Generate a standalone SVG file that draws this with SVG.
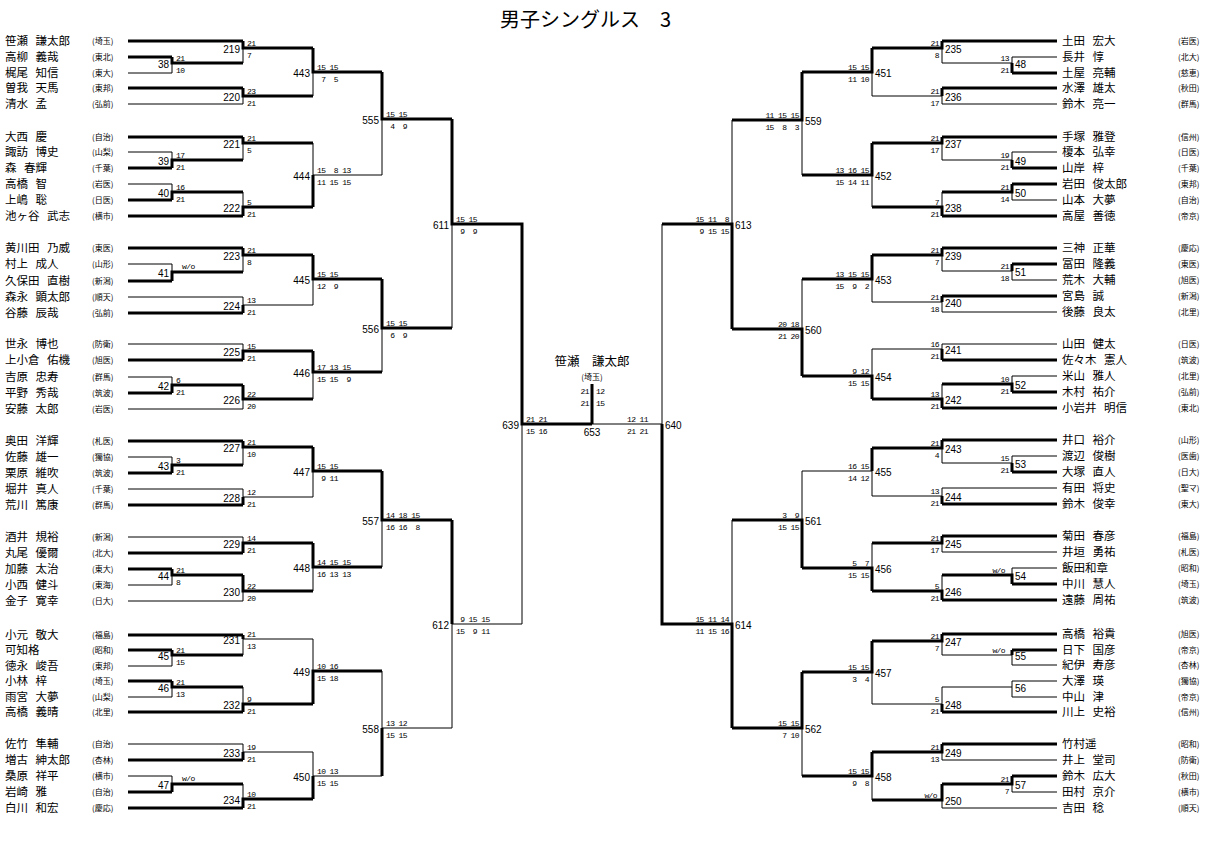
<svg xmlns="http://www.w3.org/2000/svg" width="1214" height="841" viewBox="0 0 1214 841" xml:space="preserve">
<style>
.t{stroke:#000;stroke-width:1;fill:none}
.k{stroke:#000;stroke-width:3;fill:none}
text{fill:#000}
.nm{font-family:"Noto Sans CJK JP","Noto Sans",sans-serif;font-size:11.5px;word-spacing:5px}
.sc{font-family:"Noto Sans CJK JP",sans-serif;font-size:8px}
.nl{font-family:"Liberation Sans",sans-serif;font-size:10px;text-anchor:end}
.nr{font-family:"Liberation Sans",sans-serif;font-size:10px}
.s{font-family:"Liberation Mono",monospace;font-size:8px;letter-spacing:-0.6px;white-space:pre}
.sr{font-family:"Liberation Mono",monospace;font-size:8px;letter-spacing:-0.6px;white-space:pre;text-anchor:end}
.ti{font-family:"Noto Sans CJK JP",sans-serif;font-size:20px}
</style>
<rect width="1214" height="841" fill="#fff"/>
<text class="ti" x="500" y="27">男子シングルス　3</text>
<g id="connectors">
<path class="k" d="M128 41H243M128 57H172M128 88H243M128 137H243M128 168H172M128 200H172M128 216H243M128 248H243M128 281H172M128 313H243M128 360H243M128 393H172M128 441H243M128 473H172M128 505H243M128 553H243M128 569H172M128 635H243M128 650H172M128 681H172M128 712H243M128 760H243M128 792H172M128 808H243"/>
<path class="t" d="M128 73H172M128 104H243M128 152H172M128 184H172M128 264H172M128 297H243M128 344H243M128 377H172M128 409H243M128 457H172M128 489H243M128 537H243M128 585H172M128 601H243M128 666H172M128 697H172M128 744H243M128 776H172"/>
<path class="t" d="M172 57V73M243 41V63M243 88V104M313 48V96M172 152V168M243 137V160M172 184V200M243 192V216M313 143V207M382 72V175M172 264V281M243 248V272M243 297V313M313 255V305M243 344V360M172 377V393M243 385V409M313 351V399M382 279V372M452 119V328M172 457V473M243 441V465M243 489V505M313 447V497M243 537V553M172 569V585M243 575V601M313 543V591M382 471V567M172 650V666M243 635V655M172 681V697M243 687V712M313 639V704M243 744V760M172 776V792M243 784V808M313 752V799M382 671V776M452 520V728M522 224V624M662 224V624"/>
<path class="k" d="M172 57V63H243M243 41V48H313M243 88V96H313M313 48V72H382M172 168V160H243M243 137V143H313M172 200V192H243M243 216V207H313M313 207V175M382 72V119H452M172 281V272H243M243 248V255H313M243 313V305M313 255V279H382M243 360V351H313M172 393V385H243M243 385V399H313M313 351V372H382M382 279V328H452M452 119V224H522V424H592M592 384V424M172 473V465H243M243 441V447H313M243 505V497M313 447V471H382M243 553V543H313M172 569V575H243M243 575V591H313M313 543V567H382M382 471V520H452M172 650V655H243M243 635V639M172 681V687H243M243 712V704H313M313 704V671H382M243 760V752M172 792V784H243M243 808V799H313M313 799V776M382 776V728M452 520V624"/>
<path class="t" d="M243 305H313M313 175H382M243 497H313M243 639H313M243 752H313M313 776H382M382 728H452M452 624H522M662 424H592"/>
<path class="k" d="M1057 41H942M1057 73H1012M1057 88H942M1057 137H942M1057 168H1012M1057 184H1012M1057 216H942M1057 248H942M1057 264H1012M1057 296H942M1057 360H942M1057 392H1012M1057 408H942M1057 440H942M1057 472H1012M1057 504H942M1057 536H942M1057 584H1012M1057 600H942M1057 634H942M1057 650H1012M1057 712H942M1057 744H942M1057 776H1012"/>
<path class="t" d="M1057 57H1012M1057 104H942M1057 152H1012M1057 200H1012M1057 280H1012M1057 312H942M1057 344H942M1057 376H1012M1057 456H1012M1057 488H942M1057 552H942M1057 568H1012M1057 665H1012M1057 681H1012M1057 697H1012M1057 760H942M1057 792H1012M1057 808H942"/>
<path class="t" d="M1012 57V73M942 41V63M942 88V104M872 48V96M1012 152V168M942 137V160M1012 184V200M942 192V216M872 143V207M802 72V175M1012 264V280M942 248V271M942 296V312M872 255V302M942 344V360M1012 376V392M942 384V408M872 349V399M802 279V376M732 120V329M1012 456V472M942 440V463M942 488V504M872 448V496M942 536V552M1012 568V584M942 575V600M872 543V591M802 471V568M1012 650V665M942 634V655M1012 681V697M942 687V712M872 641V704M942 744V760M1012 776V792M942 784V808M872 752V800M802 672V776M732 520V728"/>
<path class="k" d="M1012 73V63M942 41V48H872M942 88V96M872 48V72H802M1012 168V160M942 137V143H872M1012 184V192H942M942 216V207H872M872 143V175H802M802 72V120H732M1012 264V271M942 248V255H872M942 296V302M872 255V279H802M942 360V349M1012 392V384H942M942 408V399H872M872 399V376H802M802 376V329H732M732 329V224H662M1012 472V463M942 440V448H872M942 504V496M872 448V471M942 536V543H872M1012 584V575H942M942 600V591H872M872 591V568H802M802 568V520H732M1012 650V655M942 634V641H872M942 712V704M872 641V672H802M942 744V752H872M1012 776V784H942M942 784V800H872M872 752V776H802M802 672V728H732M732 728V624H662V424"/>
<path class="t" d="M1012 63H942M942 96H872M1012 160H942M1012 271H942M942 302H872M942 349H872M1012 463H942M942 496H872M872 471H802M1012 655H942M1012 687H942M942 704H872"/>
</g>
<g id="players-left">
<g id="pl1"><text class="nm" x="5" y="45">笹瀬 謙太郎</text><text class="sc" x="92" y="44">(埼玉)</text></g>
<g id="pl2"><text class="nm" x="5" y="61">高柳 義哉</text><text class="sc" x="92" y="60">(東北)</text></g>
<g id="pl3"><text class="nm" x="5" y="77">梶尾 知信</text><text class="sc" x="92" y="76">(東大)</text></g>
<g id="pl4"><text class="nm" x="5" y="92">曽我 天馬</text><text class="sc" x="92" y="91">(東邦)</text></g>
<g id="pl5"><text class="nm" x="5" y="108">清水 孟</text><text class="sc" x="92" y="107">(弘前)</text></g>
<g id="pl6"><text class="nm" x="5" y="141">大西 慶</text><text class="sc" x="92" y="140">(自治)</text></g>
<g id="pl7"><text class="nm" x="5" y="156">諏訪 博史</text><text class="sc" x="92" y="155">(山梨)</text></g>
<g id="pl8"><text class="nm" x="5" y="172">森 春輝</text><text class="sc" x="92" y="171">(千葉)</text></g>
<g id="pl9"><text class="nm" x="5" y="188">高橋 智</text><text class="sc" x="92" y="187">(岩医)</text></g>
<g id="pl10"><text class="nm" x="5" y="204">上嶋 聡</text><text class="sc" x="92" y="203">(日医)</text></g>
<g id="pl11"><text class="nm" x="5" y="220">池ヶ谷 武志</text><text class="sc" x="92" y="219">(横市)</text></g>
<g id="pl12"><text class="nm" x="5" y="252">黄川田 乃威</text><text class="sc" x="92" y="251">(東医)</text></g>
<g id="pl13"><text class="nm" x="5" y="268">村上 成人</text><text class="sc" x="92" y="267">(山形)</text></g>
<g id="pl14"><text class="nm" x="5" y="285">久保田 直樹</text><text class="sc" x="92" y="284">(新潟)</text></g>
<g id="pl15"><text class="nm" x="5" y="301">森永 顕太郎</text><text class="sc" x="92" y="300">(順天)</text></g>
<g id="pl16"><text class="nm" x="5" y="317">谷藤 辰哉</text><text class="sc" x="92" y="316">(弘前)</text></g>
<g id="pl17"><text class="nm" x="5" y="348">世永 博也</text><text class="sc" x="92" y="347">(防衛)</text></g>
<g id="pl18"><text class="nm" x="5" y="364">上小倉 佑機</text><text class="sc" x="92" y="363">(旭医)</text></g>
<g id="pl19"><text class="nm" x="5" y="381">吉原 忠寿</text><text class="sc" x="92" y="380">(群馬)</text></g>
<g id="pl20"><text class="nm" x="5" y="397">平野 秀哉</text><text class="sc" x="92" y="396">(筑波)</text></g>
<g id="pl21"><text class="nm" x="5" y="413">安藤 太郎</text><text class="sc" x="92" y="412">(岩医)</text></g>
<g id="pl22"><text class="nm" x="5" y="445">奥田 洋輝</text><text class="sc" x="92" y="444">(札医)</text></g>
<g id="pl23"><text class="nm" x="5" y="461">佐藤 雄一</text><text class="sc" x="92" y="460">(獨協)</text></g>
<g id="pl24"><text class="nm" x="5" y="477">栗原 維吹</text><text class="sc" x="92" y="476">(筑波)</text></g>
<g id="pl25"><text class="nm" x="5" y="493">堀井 真人</text><text class="sc" x="92" y="492">(千葉)</text></g>
<g id="pl26"><text class="nm" x="5" y="509">荒川 篤康</text><text class="sc" x="92" y="508">(群馬)</text></g>
<g id="pl27"><text class="nm" x="5" y="541">酒井 規裕</text><text class="sc" x="92" y="540">(新潟)</text></g>
<g id="pl28"><text class="nm" x="5" y="557">丸尾 優爾</text><text class="sc" x="92" y="556">(北大)</text></g>
<g id="pl29"><text class="nm" x="5" y="573">加藤 太治</text><text class="sc" x="92" y="572">(東大)</text></g>
<g id="pl30"><text class="nm" x="5" y="589">小西 健斗</text><text class="sc" x="92" y="588">(東海)</text></g>
<g id="pl31"><text class="nm" x="5" y="605">金子 寛幸</text><text class="sc" x="92" y="604">(日大)</text></g>
<g id="pl32"><text class="nm" x="5" y="639">小元 敬大</text><text class="sc" x="92" y="638">(福島)</text></g>
<g id="pl33"><text class="nm" x="5" y="654">可知格</text><text class="sc" x="92" y="653">(昭和)</text></g>
<g id="pl34"><text class="nm" x="5" y="670">徳永 峻吾</text><text class="sc" x="92" y="669">(東邦)</text></g>
<g id="pl35"><text class="nm" x="5" y="685">小林 梓</text><text class="sc" x="92" y="684">(埼玉)</text></g>
<g id="pl36"><text class="nm" x="5" y="701">雨宮 大夢</text><text class="sc" x="92" y="700">(山梨)</text></g>
<g id="pl37"><text class="nm" x="5" y="716">高橋 義晴</text><text class="sc" x="92" y="715">(北里)</text></g>
<g id="pl38"><text class="nm" x="5" y="748">佐竹 隼輔</text><text class="sc" x="92" y="747">(自治)</text></g>
<g id="pl39"><text class="nm" x="5" y="764">増古 紳太郎</text><text class="sc" x="92" y="763">(杏林)</text></g>
<g id="pl40"><text class="nm" x="5" y="780">桑原 祥平</text><text class="sc" x="92" y="779">(横市)</text></g>
<g id="pl41"><text class="nm" x="5" y="796">岩崎 雅</text><text class="sc" x="92" y="795">(自治)</text></g>
<g id="pl42"><text class="nm" x="5" y="812">白川 和宏</text><text class="sc" x="92" y="811">(慶応)</text></g>
</g>
<g id="players-right">
<g id="pr1"><text class="nm" x="1062" y="45">土田 宏大</text><text class="sc" x="1178" y="44">(岩医)</text></g>
<g id="pr2"><text class="nm" x="1062" y="61">長井 惇</text><text class="sc" x="1178" y="60">(北大)</text></g>
<g id="pr3"><text class="nm" x="1062" y="77">土屋 亮輔</text><text class="sc" x="1178" y="76">(慈恵)</text></g>
<g id="pr4"><text class="nm" x="1062" y="92">水澤 雄太</text><text class="sc" x="1178" y="91">(秋田)</text></g>
<g id="pr5"><text class="nm" x="1062" y="108">鈴木 亮一</text><text class="sc" x="1178" y="107">(群馬)</text></g>
<g id="pr6"><text class="nm" x="1062" y="141">手塚 雅登</text><text class="sc" x="1178" y="140">(信州)</text></g>
<g id="pr7"><text class="nm" x="1062" y="156">榎本 弘幸</text><text class="sc" x="1178" y="155">(日医)</text></g>
<g id="pr8"><text class="nm" x="1062" y="172">山岸 梓</text><text class="sc" x="1178" y="171">(千葉)</text></g>
<g id="pr9"><text class="nm" x="1062" y="188">岩田 俊太郎</text><text class="sc" x="1178" y="187">(東邦)</text></g>
<g id="pr10"><text class="nm" x="1062" y="204">山本 大夢</text><text class="sc" x="1178" y="203">(自治)</text></g>
<g id="pr11"><text class="nm" x="1062" y="220">高屋 善徳</text><text class="sc" x="1178" y="219">(帝京)</text></g>
<g id="pr12"><text class="nm" x="1062" y="252">三神 正華</text><text class="sc" x="1178" y="251">(慶応)</text></g>
<g id="pr13"><text class="nm" x="1062" y="268">冨田 隆義</text><text class="sc" x="1178" y="267">(東医)</text></g>
<g id="pr14"><text class="nm" x="1062" y="284">荒木 大輔</text><text class="sc" x="1178" y="283">(旭医)</text></g>
<g id="pr15"><text class="nm" x="1062" y="300">宮島 誠</text><text class="sc" x="1178" y="299">(新潟)</text></g>
<g id="pr16"><text class="nm" x="1062" y="316">後藤 良太</text><text class="sc" x="1178" y="315">(北里)</text></g>
<g id="pr17"><text class="nm" x="1062" y="348">山田 健太</text><text class="sc" x="1178" y="347">(日医)</text></g>
<g id="pr18"><text class="nm" x="1062" y="364">佐々木 憲人</text><text class="sc" x="1178" y="363">(筑波)</text></g>
<g id="pr19"><text class="nm" x="1062" y="380">米山 雅人</text><text class="sc" x="1178" y="379">(北里)</text></g>
<g id="pr20"><text class="nm" x="1062" y="396">木村 祐介</text><text class="sc" x="1178" y="395">(弘前)</text></g>
<g id="pr21"><text class="nm" x="1062" y="412">小岩井 明信</text><text class="sc" x="1178" y="411">(東北)</text></g>
<g id="pr22"><text class="nm" x="1062" y="444">井口 裕介</text><text class="sc" x="1178" y="443">(山形)</text></g>
<g id="pr23"><text class="nm" x="1062" y="460">渡辺 俊樹</text><text class="sc" x="1178" y="459">(医歯)</text></g>
<g id="pr24"><text class="nm" x="1062" y="476">大塚 直人</text><text class="sc" x="1178" y="475">(日大)</text></g>
<g id="pr25"><text class="nm" x="1062" y="492">有田 将史</text><text class="sc" x="1178" y="491">(聖マ)</text></g>
<g id="pr26"><text class="nm" x="1062" y="508">鈴木 俊幸</text><text class="sc" x="1178" y="507">(東大)</text></g>
<g id="pr27"><text class="nm" x="1062" y="540">菊田 春彦</text><text class="sc" x="1178" y="539">(福島)</text></g>
<g id="pr28"><text class="nm" x="1062" y="556">井垣 勇祐</text><text class="sc" x="1178" y="555">(札医)</text></g>
<g id="pr29"><text class="nm" x="1062" y="572">飯田和章</text><text class="sc" x="1178" y="571">(昭和)</text></g>
<g id="pr30"><text class="nm" x="1062" y="588">中川 慧人</text><text class="sc" x="1178" y="587">(埼玉)</text></g>
<g id="pr31"><text class="nm" x="1062" y="604">遠藤 周祐</text><text class="sc" x="1178" y="603">(筑波)</text></g>
<g id="pr32"><text class="nm" x="1062" y="638">高橋 裕貴</text><text class="sc" x="1178" y="637">(旭医)</text></g>
<g id="pr33"><text class="nm" x="1062" y="654">日下 国彦</text><text class="sc" x="1178" y="653">(帝京)</text></g>
<g id="pr34"><text class="nm" x="1062" y="669">紀伊 寿彦</text><text class="sc" x="1178" y="668">(杏林)</text></g>
<g id="pr35"><text class="nm" x="1062" y="685">大澤 瑛</text><text class="sc" x="1178" y="684">(獨協)</text></g>
<g id="pr36"><text class="nm" x="1062" y="701">中山 津</text><text class="sc" x="1178" y="700">(帝京)</text></g>
<g id="pr37"><text class="nm" x="1062" y="716">川上 史裕</text><text class="sc" x="1178" y="715">(信州)</text></g>
<g id="pr38"><text class="nm" x="1062" y="748">竹村遥</text><text class="sc" x="1178" y="747">(昭和)</text></g>
<g id="pr39"><text class="nm" x="1062" y="764">井上 堂司</text><text class="sc" x="1178" y="763">(防衛)</text></g>
<g id="pr40"><text class="nm" x="1062" y="780">鈴木 広大</text><text class="sc" x="1178" y="779">(秋田)</text></g>
<g id="pr41"><text class="nm" x="1062" y="796">田村 京介</text><text class="sc" x="1178" y="795">(横市)</text></g>
<g id="pr42"><text class="nm" x="1062" y="812">吉田 稔</text><text class="sc" x="1178" y="811">(順天)</text></g>
</g>
<g id="matches-left">
<g id="m38"><text class="nl" x="169" y="68">38</text><text class="s" x="176" y="61">21</text><text class="s" x="176" y="73">10</text></g>
<g id="m219"><text class="nl" x="240" y="53">219</text><text class="s" x="247" y="46">21</text><text class="s" x="247" y="58">7</text></g>
<g id="m220"><text class="nl" x="240" y="101">220</text><text class="s" x="247" y="94">23</text><text class="s" x="247" y="106">21</text></g>
<g id="m443"><text class="nl" x="310" y="77">443</text><text class="s" x="317" y="70">15 15</text><text class="s" x="317" y="82"> 7  5</text></g>
<g id="m39"><text class="nl" x="169" y="165">39</text><text class="s" x="176" y="158">17</text><text class="s" x="176" y="170">21</text></g>
<g id="m221"><text class="nl" x="240" y="148">221</text><text class="s" x="247" y="141">21</text><text class="s" x="247" y="153">5</text></g>
<g id="m40"><text class="nl" x="169" y="197">40</text><text class="s" x="176" y="190">16</text><text class="s" x="176" y="202">21</text></g>
<g id="m222"><text class="nl" x="240" y="212">222</text><text class="s" x="247" y="205">5</text><text class="s" x="247" y="217">21</text></g>
<g id="m444"><text class="nl" x="310" y="180">444</text><text class="s" x="317" y="173">15  8 13</text><text class="s" x="317" y="185">11 15 15</text></g>
<g id="m555"><text class="nl" x="379" y="124">555</text><text class="s" x="386" y="117">15 15</text><text class="s" x="386" y="129"> 4  9</text></g>
<g id="m41"><text class="nl" x="169" y="277">41</text><text class="s" x="182" y="269">w/o</text></g>
<g id="m223"><text class="nl" x="240" y="260">223</text><text class="s" x="247" y="253">21</text><text class="s" x="247" y="265">8</text></g>
<g id="m224"><text class="nl" x="240" y="310">224</text><text class="s" x="247" y="303">13</text><text class="s" x="247" y="315">21</text></g>
<g id="m445"><text class="nl" x="310" y="284">445</text><text class="s" x="317" y="277">15 15</text><text class="s" x="317" y="289">12  9</text></g>
<g id="m225"><text class="nl" x="240" y="356">225</text><text class="s" x="247" y="349">15</text><text class="s" x="247" y="361">21</text></g>
<g id="m42"><text class="nl" x="169" y="390">42</text><text class="s" x="176" y="383">6</text><text class="s" x="176" y="395">21</text></g>
<g id="m226"><text class="nl" x="240" y="404">226</text><text class="s" x="247" y="397">22</text><text class="s" x="247" y="409">20</text></g>
<g id="m446"><text class="nl" x="310" y="377">446</text><text class="s" x="317" y="370">17 13 15</text><text class="s" x="317" y="382">15 15  9</text></g>
<g id="m556"><text class="nl" x="379" y="333">556</text><text class="s" x="386" y="326">15 15</text><text class="s" x="386" y="338"> 6  9</text></g>
<g id="m611"><text class="nl" x="449" y="229">611</text><text class="s" x="456" y="222">15 15</text><text class="s" x="456" y="234"> 9  9</text></g>
<g id="m43"><text class="nl" x="169" y="470">43</text><text class="s" x="176" y="463">3</text><text class="s" x="176" y="475">21</text></g>
<g id="m227"><text class="nl" x="240" y="452">227</text><text class="s" x="247" y="445">21</text><text class="s" x="247" y="457">10</text></g>
<g id="m228"><text class="nl" x="240" y="502">228</text><text class="s" x="247" y="495">12</text><text class="s" x="247" y="507">21</text></g>
<g id="m447"><text class="nl" x="310" y="476">447</text><text class="s" x="317" y="469">15 15</text><text class="s" x="317" y="481"> 9 11</text></g>
<g id="m229"><text class="nl" x="240" y="548">229</text><text class="s" x="247" y="541">14</text><text class="s" x="247" y="553">21</text></g>
<g id="m44"><text class="nl" x="169" y="580">44</text><text class="s" x="176" y="573">21</text><text class="s" x="176" y="585">8</text></g>
<g id="m230"><text class="nl" x="240" y="596">230</text><text class="s" x="247" y="589">22</text><text class="s" x="247" y="601">20</text></g>
<g id="m448"><text class="nl" x="310" y="572">448</text><text class="s" x="317" y="565">14 15 15</text><text class="s" x="317" y="577">16 13 13</text></g>
<g id="m557"><text class="nl" x="379" y="525">557</text><text class="s" x="386" y="518">14 18 15</text><text class="s" x="386" y="530">16 16  8</text></g>
<g id="m45"><text class="nl" x="169" y="660">45</text><text class="s" x="176" y="653">21</text><text class="s" x="176" y="665">15</text></g>
<g id="m231"><text class="nl" x="240" y="644">231</text><text class="s" x="247" y="637">21</text><text class="s" x="247" y="649">13</text></g>
<g id="m46"><text class="nl" x="169" y="692">46</text><text class="s" x="176" y="685">21</text><text class="s" x="176" y="697">13</text></g>
<g id="m232"><text class="nl" x="240" y="709">232</text><text class="s" x="247" y="702">9</text><text class="s" x="247" y="714">21</text></g>
<g id="m449"><text class="nl" x="310" y="676">449</text><text class="s" x="317" y="669">10 16</text><text class="s" x="317" y="681">15 18</text></g>
<g id="m233"><text class="nl" x="240" y="757">233</text><text class="s" x="247" y="750">19</text><text class="s" x="247" y="762">21</text></g>
<g id="m47"><text class="nl" x="169" y="789">47</text><text class="s" x="182" y="781">w/o</text></g>
<g id="m234"><text class="nl" x="240" y="804">234</text><text class="s" x="247" y="797">10</text><text class="s" x="247" y="809">21</text></g>
<g id="m450"><text class="nl" x="310" y="781">450</text><text class="s" x="317" y="774">10 13</text><text class="s" x="317" y="786">15 15</text></g>
<g id="m558"><text class="nl" x="379" y="733">558</text><text class="s" x="386" y="726">13 12</text><text class="s" x="386" y="738">15 15</text></g>
<g id="m612"><text class="nl" x="449" y="629">612</text><text class="s" x="456" y="622"> 9 15 15</text><text class="s" x="456" y="634">15  9 11</text></g>
<g id="m639"><text class="nl" x="519" y="429">639</text><text class="s" x="526" y="422">21 21</text><text class="s" x="526" y="434">15 16</text></g>
</g>
<g id="final">
<text class="nm" x="592" y="366" text-anchor="middle" style="font-size:12.5px">笹瀬　謙太郎</text>
<text class="sc" x="592" y="380" text-anchor="middle">(埼玉)</text>
<text class="sr" x="589" y="394">21</text><text class="s" x="596" y="394">12</text>
<text class="sr" x="589" y="406">21</text><text class="s" x="596" y="406">15</text>
<text class="nr" x="592" y="436" text-anchor="middle">653</text>
<text class="sr" x="648" y="422">12 11</text><text class="sr" x="648" y="434">21 21</text>
</g>
<g id="matches-right">
<g id="m48"><text class="nr" x="1015" y="68">48</text><text class="sr" x="1009" y="61">13</text><text class="sr" x="1009" y="73">21</text></g>
<g id="m235"><text class="nr" x="945" y="53">235</text><text class="sr" x="939" y="46">21</text><text class="sr" x="939" y="58">8</text></g>
<g id="m236"><text class="nr" x="945" y="101">236</text><text class="sr" x="939" y="94">21</text><text class="sr" x="939" y="106">17</text></g>
<g id="m451"><text class="nr" x="875" y="77">451</text><text class="sr" x="869" y="70">15 15</text><text class="sr" x="869" y="82">11 10</text></g>
<g id="m49"><text class="nr" x="1015" y="165">49</text><text class="sr" x="1009" y="158">19</text><text class="sr" x="1009" y="170">21</text></g>
<g id="m237"><text class="nr" x="945" y="148">237</text><text class="sr" x="939" y="141">21</text><text class="sr" x="939" y="153">17</text></g>
<g id="m50"><text class="nr" x="1015" y="197">50</text><text class="sr" x="1009" y="190">21</text><text class="sr" x="1009" y="202">14</text></g>
<g id="m238"><text class="nr" x="945" y="212">238</text><text class="sr" x="939" y="205">7</text><text class="sr" x="939" y="217">21</text></g>
<g id="m452"><text class="nr" x="875" y="180">452</text><text class="sr" x="869" y="173">13 16 15</text><text class="sr" x="869" y="185">15 14 11</text></g>
<g id="m559"><text class="nr" x="805" y="125">559</text><text class="sr" x="799" y="118">11 15 15</text><text class="sr" x="799" y="130">15  8  3</text></g>
<g id="m51"><text class="nr" x="1015" y="276">51</text><text class="sr" x="1009" y="269">21</text><text class="sr" x="1009" y="281">18</text></g>
<g id="m239"><text class="nr" x="945" y="260">239</text><text class="sr" x="939" y="253">21</text><text class="sr" x="939" y="265">7</text></g>
<g id="m240"><text class="nr" x="945" y="307">240</text><text class="sr" x="939" y="300">21</text><text class="sr" x="939" y="312">18</text></g>
<g id="m453"><text class="nr" x="875" y="284">453</text><text class="sr" x="869" y="277">13 15 15</text><text class="sr" x="869" y="289">15  9  2</text></g>
<g id="m241"><text class="nr" x="945" y="354">241</text><text class="sr" x="939" y="347">16</text><text class="sr" x="939" y="359">21</text></g>
<g id="m52"><text class="nr" x="1015" y="389">52</text><text class="sr" x="1009" y="382">10</text><text class="sr" x="1009" y="394">21</text></g>
<g id="m242"><text class="nr" x="945" y="404">242</text><text class="sr" x="939" y="397">13</text><text class="sr" x="939" y="409">21</text></g>
<g id="m454"><text class="nr" x="875" y="381">454</text><text class="sr" x="869" y="374"> 9 12</text><text class="sr" x="869" y="386">15 15</text></g>
<g id="m560"><text class="nr" x="805" y="334">560</text><text class="sr" x="799" y="327">20 18</text><text class="sr" x="799" y="339">21 20</text></g>
<g id="m613"><text class="nr" x="735" y="229">613</text><text class="sr" x="729" y="222">15 11  8</text><text class="sr" x="729" y="234"> 9 15 15</text></g>
<g id="m53"><text class="nr" x="1015" y="468">53</text><text class="sr" x="1009" y="461">15</text><text class="sr" x="1009" y="473">21</text></g>
<g id="m243"><text class="nr" x="945" y="453">243</text><text class="sr" x="939" y="446">21</text><text class="sr" x="939" y="458">4</text></g>
<g id="m244"><text class="nr" x="945" y="501">244</text><text class="sr" x="939" y="494">13</text><text class="sr" x="939" y="506">21</text></g>
<g id="m455"><text class="nr" x="875" y="476">455</text><text class="sr" x="869" y="469">16 15</text><text class="sr" x="869" y="481">14 12</text></g>
<g id="m245"><text class="nr" x="945" y="548">245</text><text class="sr" x="939" y="541">21</text><text class="sr" x="939" y="553">17</text></g>
<g id="m54"><text class="nr" x="1015" y="580">54</text><text class="sr" x="1005" y="573">w/o</text></g>
<g id="m246"><text class="nr" x="945" y="596">246</text><text class="sr" x="939" y="589">5</text><text class="sr" x="939" y="601">21</text></g>
<g id="m456"><text class="nr" x="875" y="573">456</text><text class="sr" x="869" y="566"> 5  7</text><text class="sr" x="869" y="578">15 15</text></g>
<g id="m561"><text class="nr" x="805" y="525">561</text><text class="sr" x="799" y="518"> 3  9</text><text class="sr" x="799" y="530">15 15</text></g>
<g id="m55"><text class="nr" x="1015" y="660">55</text><text class="sr" x="1005" y="653">w/o</text></g>
<g id="m247"><text class="nr" x="945" y="646">247</text><text class="sr" x="939" y="639">21</text><text class="sr" x="939" y="651">7</text></g>
<g id="m56"><text class="nr" x="1015" y="692">56</text></g>
<g id="m248"><text class="nr" x="945" y="709">248</text><text class="sr" x="939" y="702">5</text><text class="sr" x="939" y="714">21</text></g>
<g id="m457"><text class="nr" x="875" y="677">457</text><text class="sr" x="869" y="670">15 15</text><text class="sr" x="869" y="682"> 3  4</text></g>
<g id="m249"><text class="nr" x="945" y="757">249</text><text class="sr" x="939" y="750">21</text><text class="sr" x="939" y="762">13</text></g>
<g id="m57"><text class="nr" x="1015" y="789">57</text><text class="sr" x="1009" y="782">21</text><text class="sr" x="1009" y="794">7</text></g>
<g id="m250"><text class="nr" x="945" y="805">250</text><text class="sr" x="937" y="798">w/o</text></g>
<g id="m458"><text class="nr" x="875" y="781">458</text><text class="sr" x="869" y="774">15 15</text><text class="sr" x="869" y="786"> 9  8</text></g>
<g id="m562"><text class="nr" x="805" y="733">562</text><text class="sr" x="799" y="726">15 15</text><text class="sr" x="799" y="738"> 7 10</text></g>
<g id="m614"><text class="nr" x="735" y="629">614</text><text class="sr" x="729" y="622">15 11 14</text><text class="sr" x="729" y="634">11 15 16</text></g>
<g id="m640"><text class="nr" x="665" y="429">640</text></g>
</g>
</svg>
